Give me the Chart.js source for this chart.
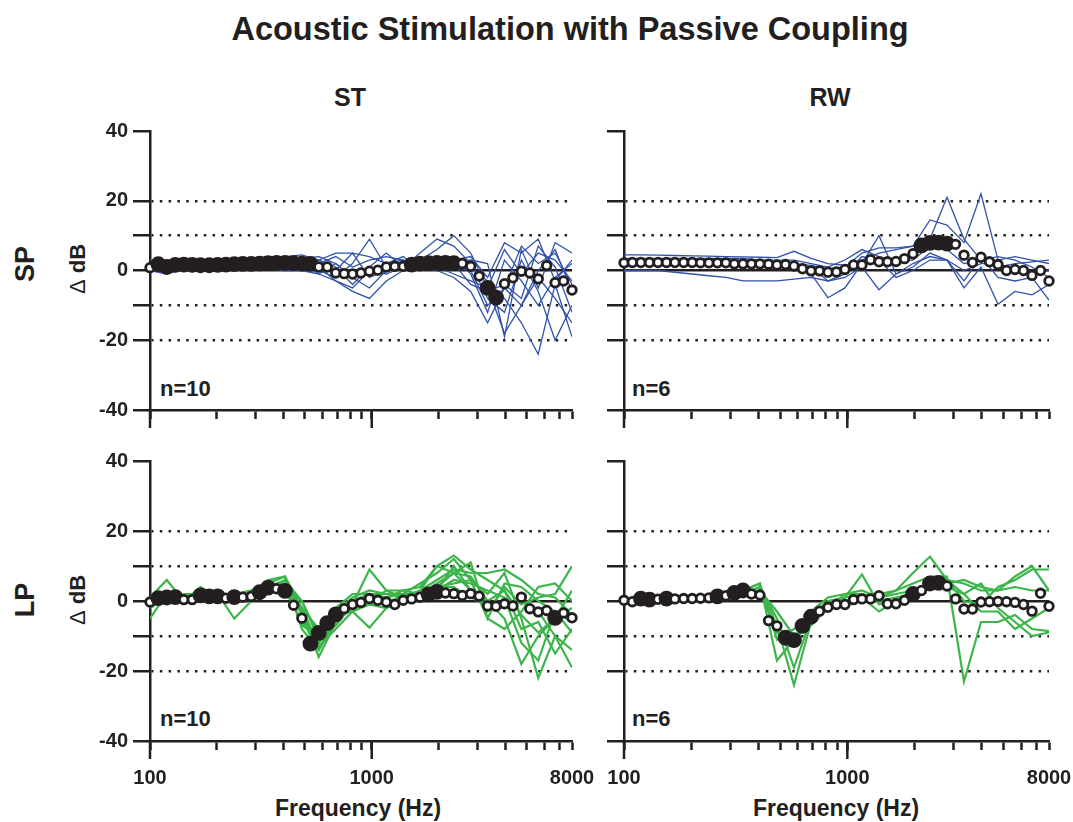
<!DOCTYPE html>
<html>
<head>
<meta charset="utf-8">
<script src="https://cdn.jsdelivr.net/npm/chart.js@4.4.1/dist/chart.umd.min.js"></script>
<style>
  body { margin: 0; background: #fff; width: 1073px; height: 822px; position: relative; overflow: hidden;
         font-family: "Liberation Sans", Arial, sans-serif; color: #231f20; }
  .txt { position: absolute; font-weight: bold; line-height: 1; white-space: nowrap; transform: translate(-50%, -50%); }
  .rot { transform: translate(-50%, -50%) rotate(-90deg); }
  .left { transform: translate(0, -50%); }
  .panel { position: absolute; }
</style>
</head>
<body>
<div class="txt" style="left:570px; top:29px; font-size:32.5px;">Acoustic Stimulation with Passive Coupling</div>
<div class="txt" style="left:350px; top:97px; font-size:25px;">ST</div>
<div class="txt" style="left:830px; top:97px; font-size:25px;">RW</div>
<div class="txt rot" style="left:25px; top:264px; font-size:27px;">SP</div>
<div class="txt rot" style="left:25px; top:600px; font-size:27px;">LP</div>
<div class="txt rot" style="left:78px; top:269px; font-size:22px;"><span style="font-weight:normal">Δ</span> dB</div>
<div class="txt rot" style="left:78px; top:600px; font-size:22px;"><span style="font-weight:normal">Δ</span> dB</div>
<div class="txt left" style="left:160px; top:389px; font-size:22px;">n=10</div>
<div class="txt left" style="left:632px; top:389px; font-size:22px;">n=6</div>
<div class="txt left" style="left:160px; top:719px; font-size:22px;">n=10</div>
<div class="txt left" style="left:632px; top:719px; font-size:22px;">n=6</div>
<div class="txt" style="left:358px; top:808px; font-size:23px;">Frequency (Hz)</div>
<div class="txt" style="left:836px; top:808px; font-size:23px;">Frequency (Hz)</div>

<div class="panel" style="left:95px; top:114px; width:517px; height:316px;"><canvas id="stSp"></canvas></div>
<div class="panel" style="left:569px; top:114px; width:520px; height:316px;"><canvas id="rwSp"></canvas></div>
<div class="panel" style="left:95px; top:444px; width:517px; height:342px;"><canvas id="stLp"></canvas></div>
<div class="panel" style="left:569px; top:444px; width:520px; height:342px;"><canvas id="rwLp"></canvas></div>

<script>
const ink = "#231f20";
const blue = "#3152a8";
const green = "#3cb54a";

// 1/8-octave-ish frequency grid of the mean curves
const freqs = [100, 109, 119, 130, 142, 155, 169, 185, 202, 220, 240, 262, 286, 312, 341, 372, 406, 444, 484, 529,
  577, 630, 688, 751, 819, 894, 976, 1066, 1163, 1270, 1386, 1513, 1652, 1803, 1968, 2149, 2345, 2560, 2795, 3051,
  3330, 3635, 3968, 4332, 4729, 5162, 5635, 6151, 6714, 7329, 8000];
// individual ears, read at every other frequency
const traceFreqs = [100, 119, 142, 169, 202, 240, 286, 341, 406, 484, 577, 688, 819, 976, 1163, 1386, 1652, 1968,
  2345, 2795, 3330, 3968, 4729, 5635, 6714, 8000];

const xTicks = [100, 200, 300, 400, 500, 600, 700, 800, 900, 1000, 2000, 3000, 4000, 5000, 6000, 7000, 8000];
const xLabels = [100, 1000, 8000];
const xMajor = [100, 1000];
const yTicks = [40, 20, 10, 0, -10, -20, -40];
const yLabels = [40, 20, 0, -20, -40];
const dottedAt = [20, 10, -10, -20];

// mean curves (dB) and significance (1 = filled marker)
const stSpMean = [0.8, 1.8, 1.0, 1.6, 1.7, 1.6, 1.5, 1.5, 1.6, 1.7, 1.8, 1.9, 1.9, 2.0, 2.1, 2.2, 2.2, 2.1, 2.0, 1.9,
  1.0, 1.0, -0.7, -0.9, -1.0, -0.7, -0.2, 0.1, 1.0, 1.2, 1.2, 1.7, 2.0, 2.1, 2.2, 2.2, 2.1, 2.0, 1.2, -1.6,
  -5.0, -7.8, -3.8, -2.1, -0.2, -0.7, -2.4, 1.4, -3.5, -3.0, -5.6];
const stSpSig = [0, 1, 1, 1, 1, 1, 1, 1, 1, 1, 1, 1, 1, 1, 1, 1, 1, 1, 1, 1,
  0, 0, 0, 0, 0, 0, 0, 0, 0, 0, 0, 1, 1, 1, 1, 1, 1, 0, 0, 0,
  1, 1, 0, 0, 0, 0, 0, 0, 0, 0, 0];

const rwSpMean = [2.2, 2.3, 2.3, 2.3, 2.3, 2.3, 2.3, 2.3, 2.3, 2.2, 2.2, 2.2, 2.2, 1.9, 1.9, 1.9, 1.9, 1.8, 1.6, 1.7,
  1.3, 0.5, -0.1, -0.1, -0.5, -0.4, 0.3, 1.6, 1.6, 3.1, 2.5, 2.5, 2.6, 3.4, 4.8, 7.2, 7.9, 8.0, 7.7, 7.5,
  4.4, 2.3, 3.8, 2.5, 1.7, 0.0, 0.3, 0.0, -1.4, 0.0, -3.0];
const rwSpSig = [0, 0, 0, 0, 0, 0, 0, 0, 0, 0, 0, 0, 0, 0, 0, 0, 0, 0, 0, 0,
  0, 0, 0, 0, 0, 0, 0, 0, 0, 0, 0, 0, 0, 0, 0, 1, 1, 1, 1, 0,
  0, 0, 0, 0, 0, 0, 0, 0, 0, 0, 0];

const stLpMean = [-0.3, 0.8, 1.0, 1.1, 0.4, 0.4, 1.6, 1.3, 1.3, 0.8, 1.1, 1.1, 1.3, 2.5, 3.8, 3.5, 2.9, -1.2, -4.9, -12.2,
  -9.1, -6.3, -3.8, -2.2, -1.0, -0.4, 0.7, 0.2, -0.3, -1.0, 0.2, 0.6, 1.1, 1.9, 2.6, 2.3, 2.1, 1.6, 2.1, 1.4,
  -1.4, -1.5, -0.8, -1.4, 1.1, -2.2, -3.1, -2.7, -4.8, -3.4, -4.8];
const stLpSig = [0, 1, 1, 1, 0, 0, 1, 1, 1, 0, 1, 0, 0, 1, 1, 0, 1, 0, 0, 1,
  1, 1, 1, 0, 0, 0, 0, 0, 0, 0, 0, 0, 0, 1, 1, 0, 0, 0, 0, 0,
  0, 0, 0, 0, 0, 0, 0, 0, 1, 0, 0];

const rwLpMean = [0.2, -0.2, 0.7, 0.4, 0.5, 0.7, 0.6, 0.7, 0.7, 0.8, 0.9, 1.3, 1.5, 2.3, 3.0, 2.0, 1.7, -5.6, -7.1, -10.5,
  -11.2, -7.1, -4.5, -2.9, -1.8, -1.0, -1.0, 0.4, 0.6, 0.6, 1.5, -0.8, -0.8, 0.2, 2.0, 3.0, 5.0, 5.2, 4.3, 0.6,
  -2.3, -2.3, -0.3, -0.2, -0.1, -0.2, -0.4, -1.0, -2.9, 2.2, -1.5];
const rwLpSig = [0, 0, 1, 1, 0, 1, 0, 0, 0, 0, 0, 1, 0, 1, 1, 0, 0, 0, 0, 1,
  1, 1, 1, 0, 0, 0, 0, 0, 0, 0, 0, 0, 0, 0, 1, 0, 1, 1, 0, 0,
  0, 0, 0, 0, 0, 0, 0, 0, 0, 0, 0];

// individual ears
const stSpTraces = [
  [1, 2, 2, 2, 2, 2, 2.5, 3, 3, 3.5, 4, 2, -2, -5, 0, 2, 3, 6, 10, 5, -5, -18, -10, -2, -8, -15],
  [3, 3, 3, 3, 3, 3.5, 3.5, 4, 4, 4.5, 3, 5, 5, 4, 2, 1, 5, 9, 7, 2, -8, -12, 3, -6, -20, -10],
  [2, 2, 2, 2, 1.5, 1.5, 1.5, 1.5, 2, 2, 1, -3, -6, -8, -3, 0, 2, 3, 2, 1, -3, -8, -15, -24, -4, -19],
  [0, 1, 1, 1, 1, 1, 1, 1, 0.5, 1, 2, 4, 1, 3, 4, 3, 1, 2, 1, 0, -10, -5, 7, 2, 5, -4],
  [1, 1, 1.5, 1.5, 1.5, 1.5, 2, 2, 2.5, 3, 0, -2, 2, 9, 1, 0, 2, 2, 3, 4, -2, 8, 5, 9, -3, 3],
  [0, -1, 0.5, 1, 1, 1, 1, 0.5, 0, 0, -1, 2, -2, -1, 2, 3, 1, 0, -2, -6, -15, -5, -10, 0, 6, -6],
  [1, 1.5, 1.5, 1.5, 1.5, 1.5, 1.5, 2, 2, 2, 3, 1, -4, 1, 5, 1, 2, 1, 4, -1, -12, 3, -3, -10, -2, 2],
  [2, 2, 2, 2, 2, 2.5, 2.5, 2.5, 3, 3.5, 2, 0, 5, -2, 0, 2, 3, 1, 2, 3, 2, -19, 6, -5, 8, 5],
  [1.5, 1.5, 1.5, 1.5, 1.5, 1.5, 1.5, 1.5, 1.5, 1.5, 1, -1, 0, 0, -1, 1, 2, 3, 2, -4, -6, -4, -8, 7, 1, -12],
  [1, 2, 2, 2, 2, 2, 2, 2, 2, 2, -1, -3, -5, 0, 2, 4, 0, 1, -1, -3, -5, 6, -1, 5, 3, -3]
];
const rwSpTraces = [
  [4.5, 4.5, 4.4, 4.3, 4.2, 4.1, 4.0, 3.9, 3.8, 3.7, 5.5, 3.5, 2, 1.5, 3, 5, 6, 7, 14.5, 13, 8, 22, 3, 4, 3, 2],
  [3, 3, 3, 3, 3, 3, 3, 3, 3, 2.5, 2, 1.5, 0.5, 1, 5, 6.5, 6.5, 7, 9, 21, 9, 3, 1, 2, 2.5, 3],
  [1, 1.5, 1.5, 1.5, 1.5, 1.5, 1.5, 1.5, 1.5, 1.5, 1, -1, -7.8, -5, 2, 10, -1, 1, 5, 3, -3, 4, -2, -3, -2, -8.5],
  [0, 0, 0, -0.5, -1, -1.5, -2, -3, -3, -3, -2.5, -2, -3, -2, 1, -5.5, -1, 2, 4, 3, -5, 1, -9.7, -6, -7, -4],
  [2, 2, 2, 2, 2, 2, 2, 2, 2, 1.5, 1, 1, -3, -1, 4, 3, -2, 0, 3, 3, 0, 2, 2, 0, -1, 0],
  [3.5, 3.5, 3.5, 3.5, 3.5, 3.5, 3.5, 3.5, 3, 3, 3, 2, 1, 3, 6, 4, 3, 3, 7, 6, 2, 3, 4, 3, 1, -2]
];
const stLpTraces = [
  [-5, 2, 1, 2, 1, 0, 1, 2, 5, -3, -12, -3, 0, 2, 1, 2, 5, 8, 12, 6, 2, 8, -5, -22, -10, -19],
  [1, 6, 0, 4, 1, 1, 2, 6, 7, -8, -14, -5, -2, 0, 3, 3, 4, 10, 13, 9, 6, 3, -8, -6, -15, -8],
  [0, 0, 1, 1, 2, -5, 0, 4, 5, -2, -13, -8, -3, -1, 0, 1, 2, 5, 8, 7, 0, -5, -18, -10, -5, 3],
  [-2, 1, 0, 2, 1, 1, 2, 3, 6, -4, -16, -6, -1, 9, 3, 1, 3, 6, 9, 8, 8, 9, 6, 2, 1, -4],
  [1, 0, 1, 1, 2, 2, 3, 4, 6, 0, -10, -3, 1, 3, 2, 2, 2, 3, 6, 5, 3, 1, -12, -17, -3, -6],
  [0, 1, 1, 1, 2, 1, 2, 3, 4, -6, -12, -6, -2, -1, -2, 0, 2, 4, 8, 11, -5, 5, 4, 0, -3, -9],
  [0, 1, 0, 1, 1, 1, 3, 5, 7, -2, -8, -2, 2, 2, 2, 1, 2, 4, 5, 6, -5, -8, -3, 4, 5, 0],
  [-1, 0, 1, 0, 1, 2, 2, 3, 5, -7, -10, -4, -3, -7.6, -2, 1, 3, 10, 8, 3, -3, 4, -1, 1, 2, 10],
  [1, 1, 2, 2, 2, 2, 2, 3, 4, 0, -11, -7, -1, 2, 1, 3, 2, 4, 4, 1, -1, -2, 0, -3, -10, -14],
  [0, 0, 1, 1, 1, 1, 2, 3, 2, -3, -14, -5, -2, 1, -1, 2, 1, 3, 10, 3, 0, 3, -4, -9, -5, -2]
];
const rwLpTraces = [
  [0, 0.5, 0.5, 1, 1, 1, 1.5, 2, 4, -7, -24, -6, -2, 0, 1, 2, 3, 8, 12.7, 6, 2, 5, -2, -6, -10, -9],
  [0.5, 0.5, 1, 1, 1, 1, 1.5, 3, 5, -17, -11, -4, -1, 1, 2, 1, 3, 5, 7, 7, -23, -6, -6, -4, -8, -8.6],
  [-0.5, 0, 0.5, 0.5, 1, 1, 1, 2, 4, -5, -19, -5, 0, 1, 7.6, -1, 0, 3, 5, 6, 0, -1, 4, 6, 9, 9],
  [0, 0.5, 0.5, 1, 1, 1, 1, 2, 3, -9, -13, -3, 1, 2, 2, 0, 1, 2, 4, 5, 6, 4, 3, 7, 10, 3],
  [0.5, 1, 1, 1, 1, 1.5, 2, 3, 5, -11, -8, -4, 0, 0, 1, -3, 0, 2, 4, 4, 2, -3, -3, -8, -5, -2],
  [0, 0, 0.5, 0.5, 0.5, 1, 1, 2, 3, -3, -10, -7, -2, 2, 3, 1, 2, 3, 5, 6, 5, 3, 3, 4, 3, 3]
];

Chart.defaults.font.family = '"Liberation Sans", Arial, sans-serif';
Chart.defaults.color = ink;

function series(xs, ys) {
  return xs.map((f, i) => ({ x: f, y: ys[i] }));
}

// longer tick marks at 100 and 1000
const majorTicks = {
  id: "majorTicks",
  afterDraw(chart) {
    const x = chart.scales.x;
    const ctx = chart.ctx;
    ctx.save();
    ctx.strokeStyle = ink;
    ctx.lineWidth = 2.5;
    xMajor.forEach((v) => {
      const px = x.getPixelForValue(v);
      ctx.beginPath();
      ctx.moveTo(px, x.top);
      ctx.lineTo(px, x.top + 18);
      ctx.stroke();
    });
    ctx.restore();
  },
};

function makePanel(id, mean, sig, traces, color, width, showY, showX) {
  const datasets = [{
    data: series(freqs, mean),
    showLine: false,
    order: 0,
    clip: false,
    pointStyle: "circle",
    pointRadius: sig.map((s) => (s ? 6.5 : 4.3)),
    pointBackgroundColor: sig.map((s) => (s ? ink : "#fff")),
    pointBorderColor: ink,
    pointBorderWidth: 2.8,
  }];
  traces.forEach((t) => {
    datasets.push({
      data: series(traceFreqs, t),
      order: 1,
      borderColor: color,
      borderWidth: width,
      pointRadius: 0,
      tension: 0,
      fill: false,
    });
  });

  return new Chart(document.getElementById(id), {
    type: "line",
    data: { datasets },
    plugins: [majorTicks],
    options: {
      responsive: true,
      maintainAspectRatio: false,
      animation: false,
      events: [],
      layout: { padding: { top: 15, right: 40, left: 0, bottom: 0 } },
      plugins: { legend: { display: false }, tooltip: { enabled: false } },
      scales: {
        x: {
          type: "logarithmic",
          min: 100,
          max: 8000,
          afterBuildTicks: (s) => { s.ticks = xTicks.map((v) => ({ value: v })); },
          afterFit: (s) => { s.height = showX ? 45 : 20; },
          ticks: {
            autoSkip: false,
            maxRotation: 0,
            padding: 16,
            color: ink,
            font: { size: 20, weight: "bold" },
            callback: (v) => (showX && xLabels.includes(v) ? String(v) : ""),
          },
          grid: { drawOnChartArea: false, tickLength: 9, tickColor: ink, tickWidth: 2.5 },
          border: { color: ink, width: 2.5 },
        },
        y: {
          min: -40,
          max: 40,
          afterBuildTicks: (s) => { s.ticks = yTicks.map((v) => ({ value: v })); },
          afterFit: (s) => { s.width = 55; },
          ticks: {
            padding: 5,
            color: ink,
            font: { size: 20, weight: "bold" },
            callback: (v) => (showY && yLabels.includes(v) ? String(v) : ""),
          },
          grid: {
            color: (c) => {
              const v = c.tick ? c.tick.value : null;
              return v === 0 || dottedAt.includes(v) ? ink : "rgba(0,0,0,0)";
            },
            lineWidth: 2.5,
            tickLength: 17,
            tickColor: ink,
            tickWidth: 2.5,
          },
          border: {
            color: ink,
            width: 2.5,
            dash: (c) => (c.tick && c.tick.value !== 0 ? [2.5, 6.3] : []),
            dashOffset: 0.5,
          },
        },
      },
    },
  });
}

makePanel("stSp", stSpMean, stSpSig, stSpTraces, blue, 1.3, true, false);
makePanel("rwSp", rwSpMean, rwSpSig, rwSpTraces, blue, 1.3, false, false);
makePanel("stLp", stLpMean, stLpSig, stLpTraces, green, 2.2, true, true);
makePanel("rwLp", rwLpMean, rwLpSig, rwLpTraces, green, 2.2, false, true);
</script>
</body>
</html>
